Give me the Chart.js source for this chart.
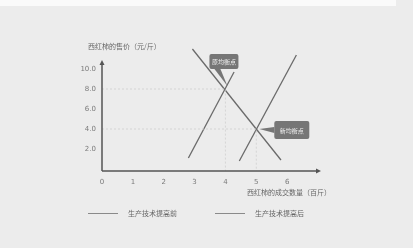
<!DOCTYPE html>
<html><head><meta charset="utf-8">
<script src="https://cdn.jsdelivr.net/npm/chart.js@4/dist/chart.umd.min.js"></script>
<style>
html,body{margin:0;padding:0;background:#ececec;}
#wrap{position:relative;width:413px;height:248px;overflow:hidden;background:#ececec;}
#topband{position:absolute;left:0;top:0;width:396px;height:6px;background:#fafafa;}
canvas{position:absolute;left:0;top:0;}
.t{position:absolute;font-family:"Noto Sans CJK SC",sans-serif;font-size:7px;color:#666;white-space:nowrap;line-height:9px;}
.lg{position:absolute;height:0;border-top:1px solid #8a8a8a;}
</style></head>
<body><div id="wrap"><div id="topband"></div>
<canvas id="c" width="413" height="248"></canvas>
<div class="t" style="left:88px;top:42px;">西红柿的售价（元/斤）</div>
<div class="t" style="left:247px;top:188px;">西红柿的成交数量（百斤）</div>
<div class="lg" style="left:88px;top:213px;width:30px;"></div>
<div class="t" style="left:128px;top:209px;">生产技术提高前</div>
<div class="lg" style="left:215px;top:213px;width:30px;"></div>
<div class="t" style="left:255px;top:209px;">生产技术提高后</div>
</div>
<script>
const xTicks = [0, 1, 2, 3, 4, 5, 6];
const yTicks = [2, 4, 6, 8, 10];
const demand = [{x: 2.93, y: 12.0}, {x: 5.8, y: 0.9}];
const supplyBefore = [{x: 2.8, y: 1.1}, {x: 4.28, y: 9.7}];
const supplyAfter = [{x: 4.45, y: 0.8}, {x: 6.3, y: 11.4}];
const eqOld = {x: 4, y: 8, label: '原均衡点'};
const eqNew = {x: 5, y: 4, label: '新均衡点'};

const guide = (p) => [{x: 0, y: p.y}, {x: p.x, y: p.y}, {x: p.x, y: -0.2}];
const lineDs = (d) => ({data: d, showLine: true, borderColor: '#6a6a6a', borderWidth: 1.3, pointRadius: 0, clip: false});
const guideDs = (d) => ({data: d, showLine: true, borderColor: '#cfcfcf', borderWidth: 0.8, borderDash: [2, 2], pointRadius: 0});

const deco = {
  id: 'deco',
  afterDraw(chart) {
    const ctx = chart.ctx, a = chart.chartArea;
    const xs = chart.scales.x, ys = chart.scales.y;
    ctx.save();
    ctx.strokeStyle = '#555'; ctx.fillStyle = '#555'; ctx.lineWidth = 1.5;
    ctx.beginPath(); ctx.moveTo(a.left, a.bottom); ctx.lineTo(a.left, a.top); ctx.stroke();
    ctx.beginPath(); ctx.moveTo(a.left, a.bottom); ctx.lineTo(a.right, a.bottom); ctx.stroke();
    ctx.beginPath(); ctx.moveTo(a.left, a.top - 3); ctx.lineTo(a.left - 2.5, a.top + 2); ctx.lineTo(a.left + 2.5, a.top + 2); ctx.closePath(); ctx.fill();
    ctx.beginPath(); ctx.moveTo(a.right + 3, a.bottom); ctx.lineTo(a.right - 2, a.bottom - 2.5); ctx.lineTo(a.right - 2, a.bottom + 2.5); ctx.closePath(); ctx.fill();
    const callout = (p, dx, dy, w, h, side) => {
      const px = xs.getPixelForValue(p.x), py = ys.getPixelForValue(p.y);
      const bx = px + dx, by = py + dy;
      ctx.fillStyle = '#767676';
      ctx.beginPath();
      if (ctx.roundRect) ctx.roundRect(bx, by, w, h, 2); else ctx.rect(bx, by, w, h);
      ctx.fill();
      ctx.beginPath();
      if (side === 'bottom') { ctx.moveTo(bx + 5, by + h); ctx.lineTo(bx + 11, by + h); ctx.lineTo(px + 2, py - 3); }
      else { ctx.moveTo(bx, by + h / 2 - 3); ctx.lineTo(bx, by + h / 2 + 3); ctx.lineTo(px + 3, py); }
      ctx.closePath(); ctx.fill();
      ctx.fillStyle = '#f2f2f2';
      ctx.font = '6px "Noto Sans CJK SC"';
      ctx.textAlign = 'center'; ctx.textBaseline = 'middle';
      ctx.fillText(p.label, bx + w / 2, by + h / 2 + 0.5);
    };
    callout(eqOld, -16, -35, 29, 15, 'bottom');
    callout(eqNew, 18, -8, 35, 18, 'left');
    ctx.restore();
  }
};

new Chart(document.getElementById('c'), {
  type: 'scatter',
  data: {datasets: [
    guideDs(guide(eqOld)), guideDs(guide(eqNew)),
    lineDs(demand), lineDs(supplyBefore), lineDs(supplyAfter)
  ]},
  options: {
    responsive: false, animation: false, events: [],
    layout: {padding: {left: 0, top: 63, right: 95, bottom: 0}},
    plugins: {legend: {display: false}, tooltip: {enabled: false}},
    scales: {
      x: {
        type: 'linear', min: 0, max: 7,
        afterBuildTicks: (s) => { s.ticks = xTicks.map(v => ({value: v})); },
        afterFit: (s) => { s.height = 77; },
        grid: {display: false, drawTicks: false},
        border: {display: false},
        ticks: {padding: 7, color: '#7a7a7a', font: {size: 7, family: 'DejaVu Sans'}, callback: (v) => String(v)}
      },
      y: {
        type: 'linear', min: -0.2, max: 10.6,
        afterBuildTicks: (s) => { s.ticks = yTicks.map(v => ({value: v})); },
        afterFit: (s) => { s.width = 102; },
        grid: {display: false, drawTicks: false},
        border: {display: false},
        ticks: {padding: 6, color: '#7a7a7a', font: {size: 7, family: 'DejaVu Sans'}, callback: (v) => v.toFixed(1)}
      }
    }
  },
  plugins: [deco]
});
</script></body></html>
